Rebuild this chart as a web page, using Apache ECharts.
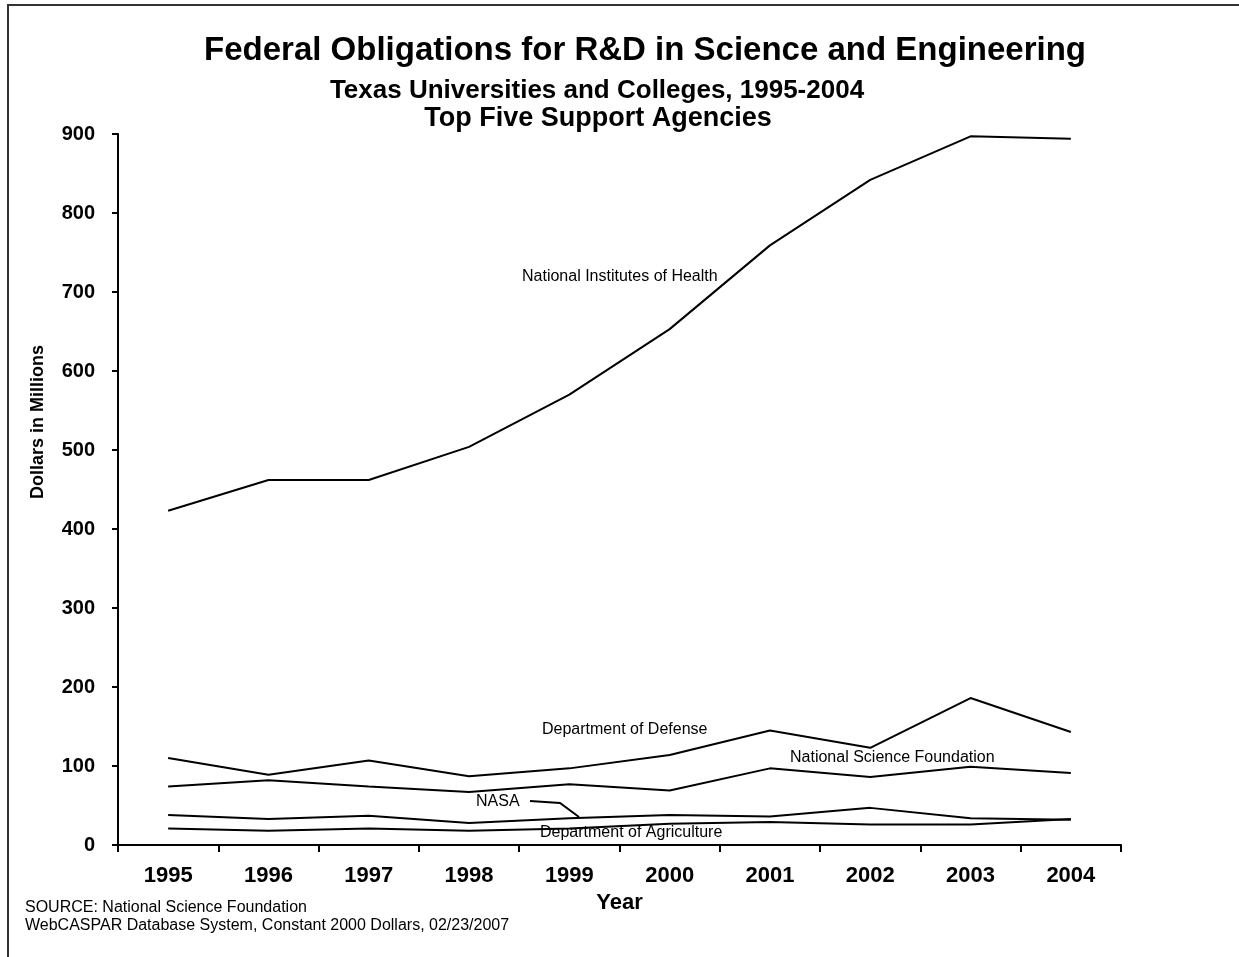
<!DOCTYPE html>
<html>
<head>
<meta charset="utf-8">
<script src="https://cdn.jsdelivr.net/npm/echarts@6/dist/echarts.min.js"></script>
<style>
  html, body { margin: 0; padding: 0; background: #fff; }
  #chart { width: 1239px; height: 957px; }
</style>
</head>
<body>
<div id="chart"></div>
<script>
// years on the x axis
const years = ['1995', '1996', '1997', '1998', '1999', '2000', '2001', '2002', '2003', '2004'];
// y axis ticks, millions of dollars
const yTicks = [0, 100, 200, 300, 400, 500, 600, 700, 800, 900];

// values (constant 2000 dollars, millions)
const nih = [423, 462, 462, 504, 570, 653, 759, 842, 897, 894];
const dod = [110, 89, 107, 87, 97, 114, 145, 123, 186, 143];
const nsf = [74, 82, 74, 67, 77, 69, 97, 86, 99, 91];
const nasa = [38, 33, 37, 28, 34, 38, 36, 47, 34, 32];
const agriculture = [21, 18, 21, 18, 21, 27, 29, 26, 26, 33];

const font = 'Arial, "Liberation Sans", Helvetica, sans-serif';

const myChart = echarts.init(document.getElementById('chart'));

function line(name, data) {
    return {
        name: name,
        type: 'line',
        data: data,
        symbol: 'none',
        silent: true,
        lineStyle: { color: '#000', width: 2 }
    };
}

// plain text used for the labels in the plot
function note(text, x, y, size, weight) {
    return {
        type: 'text',
        left: x,
        top: y,
        silent: true,
        style: {
            text: text,
            fill: '#000',
            font: (weight || 'normal') + ' ' + size + 'px ' + font
        }
    };
}

myChart.setOption({
    animation: false,
    backgroundColor: '#fff',
    title: [
        {
            text: 'Federal Obligations for R&D in Science and Engineering',
            left: 640, top: 29, textAlign: 'center',
            textStyle: { fontFamily: font, fontWeight: 'bold', fontSize: 33, color: '#000' }
        },
        {
            text: 'Texas Universities and Colleges, 1995-2004',
            left: 592, top: 73, textAlign: 'center',
            textStyle: { fontFamily: font, fontWeight: 'bold', fontSize: 26, color: '#000' }
        },
        {
            text: 'Top Five Support Agencies',
            left: 593, top: 100, textAlign: 'center',
            textStyle: { fontFamily: font, fontWeight: 'bold', fontSize: 27, color: '#000' }
        }
    ],
    grid: { left: 118, right: 118, top: 134, bottom: 112, containLabel: false },
    xAxis: {
        type: 'category',
        data: years,
        boundaryGap: true,
        name: 'Year',
        nameLocation: 'middle',
        nameGap: 47,
        nameTextStyle: { fontFamily: font, fontWeight: 'bold', fontSize: 22, color: '#000' },
        axisLine: { lineStyle: { color: '#000', width: 2 } },
        axisTick: { show: true, length: 7, lineStyle: { color: '#000', width: 2 } },
        axisLabel: { margin: 20, fontFamily: font, fontWeight: 'bold', fontSize: 22, color: '#000' },
        splitLine: { show: false }
    },
    yAxis: {
        type: 'value',
        min: yTicks[0],
        max: yTicks[yTicks.length - 1],
        interval: 100,
        axisLine: { show: true, lineStyle: { color: '#000', width: 2 } },
        axisTick: { show: true, length: 6, lineStyle: { color: '#000', width: 2 } },
        axisLabel: { margin: 23, fontFamily: font, fontWeight: 'bold', fontSize: 20, color: '#000' },
        splitLine: { show: false }
    },
    series: [
        line('National Institutes of Health', nih),
        line('Department of Defense', dod),
        line('National Science Foundation', nsf),
        line('NASA', nasa),
        line('Department of Agriculture', agriculture)
    ],
    graphic: [
        // frame round the picture
        {
            type: 'rect',
            silent: true,
            shape: { x: 8, y: 5, width: 1300, height: 1000 },
            style: { fill: null, stroke: '#333', lineWidth: 2 }
        },
        {
            type: 'text',
            left: 29,
            top: 345,
            rotation: Math.PI / 2,
            silent: true,
            style: {
                text: 'Dollars in Millions',
                fill: '#000',
                font: 'bold 18px ' + font
            }
        },
        note('National Institutes of Health', 522, 269, 16),
        note('Department of Defense', 542, 722, 16),
        note('National Science Foundation', 790, 750, 16),
        note('NASA', 476, 794, 16),
        note('Department of Agriculture', 540, 825, 16),
        {
            type: 'polyline',
            silent: true,
            shape: { points: [[530, 801], [560, 803], [579, 817]] },
            style: { stroke: '#000', lineWidth: 2, fill: null }
        },
        note('SOURCE: National Science Foundation', 25, 900, 16),
        note('WebCASPAR Database System, Constant 2000 Dollars, 02/23/2007', 25, 918, 16)
    ]
});
</script>
</body>
</html>
